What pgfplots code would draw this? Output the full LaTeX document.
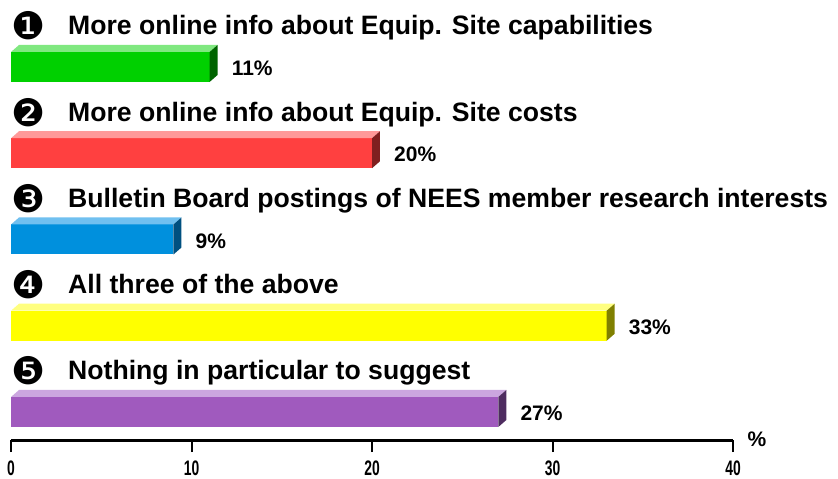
\documentclass[border=0pt]{standalone}
\usepackage{pgfplots}
\pgfplotsset{compat=1.18}
\usepackage{fontspec}
\setmainfont{Liberation Sans}
\newfontfamily\dingfont{DejaVu Sans}
\definecolor{gF}{HTML}{00D000}\definecolor{gT}{HTML}{80E880}\definecolor{gS}{HTML}{006400}
\definecolor{rF}{HTML}{FF4040}\definecolor{rT}{HTML}{FF9999}\definecolor{rS}{HTML}{7F2020}
\definecolor{bF}{HTML}{0090DD}\definecolor{bT}{HTML}{70C0F0}\definecolor{bS}{HTML}{005080}
\definecolor{yF}{HTML}{FFFF00}\definecolor{yT}{HTML}{FFFF80}\definecolor{yS}{HTML}{808000}
\definecolor{pF}{HTML}{A05ABE}\definecolor{pT}{HTML}{CBA6DF}\definecolor{pS}{HTML}{4E2C60}
\newcommand\sx[1]{\scalebox{0.66}[1]{\bfseries\fontsize{21}{21}\selectfont #1}}
\tikzset{
  lab/.style={anchor=base west, inner sep=0pt, font=\bfseries\fontsize{26.6}{26.6}\selectfont},
  num/.style={anchor=center, inner sep=0pt, font=\dingfont\fontsize{38}{38}\selectfont},
}
\pgfplotsset{
  front/.style={xbar, bar width=30, bar shift=0pt, draw=none,
    nodes near coords={\textbf{\pgfmathprintnumber[assume math mode=true]{\pgfplotspointmeta}\%}},
    nodes near coords style={anchor=west, inner sep=0pt, xshift=22pt, yshift=-1.5pt, font=\fontsize{21}{21}\selectfont},
    point meta=x},
  face/.style={draw=none, mark=none},
}
\begin{document}
\begin{tikzpicture}
\useasboundingbox (0,0) rectangle (838pt,479pt);
\begin{axis}[
  at={(11pt,39pt)}, anchor=south west,
  scale only axis, width=722pt, height=440pt,
  xmin=0, xmax=40, ymin=0, ymax=440,
  clip=false,
  axis x line*=bottom, axis y line=none,
  x axis line style={line width=3pt, -},
  xtick={0,10,20,30,40},
  xticklabels={\sx{0},\sx{10},\sx{20},\sx{30},\sx{40}},
  xticklabel style={inner sep=0pt, yshift=-8.5pt},
  xtick align=outside,
  major tick length=12pt,
  tick style={line width=2pt, black},
  ytick=\empty,
]
% bar 1
\addplot[front, fill=gF] coordinates {(11,373)};
\addplot[face, fill=gT] coordinates {(0,388) (11,388) (11.443,395) (0.443,395)};
\addplot[face, fill=gS] coordinates {(11,358) (11.443,365) (11.443,395) (11,388)};
% bar 2
\addplot[front, fill=rF] coordinates {(20,286.75)};
\addplot[face, fill=rT] coordinates {(0,301.75) (20,301.75) (20.443,308.75) (0.443,308.75)};
\addplot[face, fill=rS] coordinates {(20,271.75) (20.443,278.75) (20.443,308.75) (20,301.75)};
% bar 3
\addplot[front, fill=bF] coordinates {(9,200.5)};
\addplot[face, fill=bT] coordinates {(0,215.5) (9,215.5) (9.443,222.5) (0.443,222.5)};
\addplot[face, fill=bS] coordinates {(9,185.5) (9.443,192.5) (9.443,222.5) (9,215.5)};
% bar 4
\addplot[front, fill=yF] coordinates {(33,114.25)};
\addplot[face, fill=yT] coordinates {(0,129.25) (33,129.25) (33.443,136.25) (0.443,136.25)};
\addplot[face, fill=yS] coordinates {(33,99.25) (33.443,106.25) (33.443,136.25) (33,129.25)};
% bar 5
\addplot[front, fill=pF] coordinates {(27,28)};
\addplot[face, fill=pT] coordinates {(0,43) (27,43) (27.443,50) (0.443,50)};
\addplot[face, fill=pS] coordinates {(27,13) (27.443,20) (27.443,50) (27,43)};
% category labels
\node[num] at (axis cs:0.95,414) {❶};
\node[lab] at (axis cs:3.16,405) {More online info about Equip. Site capabilities};
\node[num] at (axis cs:0.95,327.75) {❷};
\node[lab] at (axis cs:3.16,318.75) {More online info about Equip. Site costs};
\node[num] at (axis cs:0.95,241.5) {❸};
\node[lab] at (axis cs:3.16,232.5) {Bulletin Board postings of NEES member research interests};
\node[num] at (axis cs:0.95,155.25) {❹};
\node[lab] at (axis cs:3.16,146.25) {All three of the above};
\node[num] at (axis cs:0.95,69) {❺};
\node[lab] at (axis cs:3.16,60) {Nothing in particular to suggest};
\node[anchor=center, inner sep=0pt, font=\bfseries\fontsize{21}{21}\selectfont] at (axis cs:40,0) [xshift=24pt, yshift=1pt] {\%};
\end{axis}
\end{tikzpicture}
\end{document}
